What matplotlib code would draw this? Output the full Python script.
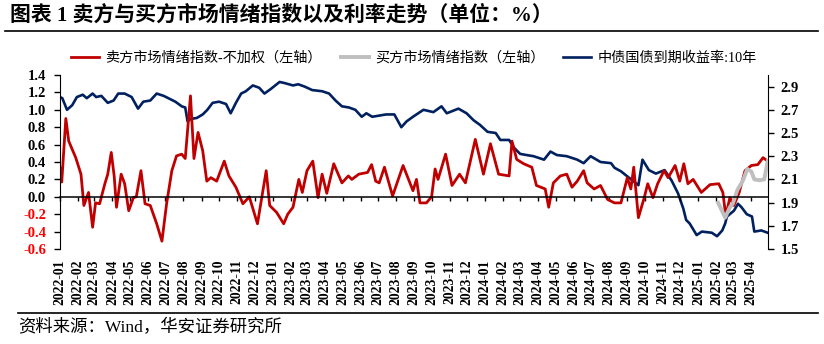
import numpy as np
import pandas as pd
import matplotlib
matplotlib.use("Agg")
import matplotlib.pyplot as plt
import matplotlib.dates as mdates
from matplotlib.lines import Line2D

# =========================
# data
# =========================
sell_dates = ['2022-01-01', '2022-01-04', '2022-01-11', '2022-01-16', '2022-01-28', '2022-02-06',
              '2022-02-11', '2022-02-19', '2022-02-26', '2022-03-03', '2022-03-10', '2022-03-19',
              '2022-03-24', '2022-03-30', '2022-04-04', '2022-04-08', '2022-04-16', '2022-04-22',
              '2022-04-29', '2022-05-07', '2022-05-12', '2022-05-20', '2022-05-27', '2022-06-05',
              '2022-06-16', '2022-06-25', '2022-07-03', '2022-07-12', '2022-07-20', '2022-07-29',
              '2022-08-04', '2022-08-13', '2022-08-19', '2022-08-26', '2022-09-03', '2022-09-10',
              '2022-09-17', '2022-09-27', '2022-10-10', '2022-10-18', '2022-10-30', '2022-11-11',
              '2022-11-22', '2022-12-06', '2022-12-21', '2022-12-27', '2023-01-08', '2023-01-20',
              '2023-01-27', '2023-02-05', '2023-02-15', '2023-02-21', '2023-03-01', '2023-03-11',
              '2023-03-20', '2023-03-27', '2023-04-04', '2023-04-16', '2023-04-30', '2023-05-11',
              '2023-05-17', '2023-05-29', '2023-06-13', '2023-06-20', '2023-06-27', '2023-07-03',
              '2023-07-12', '2023-07-26', '2023-08-13', '2023-08-30', '2023-09-05', '2023-09-11',
              '2023-09-22', '2023-10-01', '2023-10-07', '2023-10-12', '2023-10-25', '2023-11-05',
              '2023-11-18', '2023-11-28', '2023-12-15', '2023-12-29', '2024-01-10', '2024-01-24',
              '2024-02-11', '2024-02-16', '2024-02-24', '2024-03-07', '2024-03-21', '2024-03-29',
              '2024-04-13', '2024-04-19', '2024-04-27', '2024-05-09', '2024-05-20', '2024-05-29',
              '2024-06-07', '2024-06-18', '2024-06-24', '2024-07-06', '2024-07-17', '2024-07-29',
              '2024-08-10', '2024-08-21', '2024-09-01', '2024-09-07', '2024-09-12', '2024-09-20',
              '2024-09-30', '2024-10-06', '2024-10-15', '2024-10-23', '2024-11-03', '2024-11-10',
              '2024-11-22', '2024-11-30', '2024-12-07', '2024-12-14', '2024-12-23', '2025-01-06',
              '2025-01-21', '2025-02-05', '2025-02-12', '2025-02-17', '2025-02-24', '2025-03-03',
              '2025-03-12', '2025-03-22', '2025-04-02', '2025-04-13', '2025-04-22', '2025-04-30']
sell_vals = [0.33, 0.17, 0.90, 0.64, 0.45, 0.26,
             -0.10, 0.05, -0.35, -0.07, -0.08, 0.15,
             0.26, 0.51, 0.24, -0.12, 0.26, 0.15,
             -0.16, -0.01, 0.00, 0.30, -0.08, -0.10,
             -0.31, -0.51, -0.08, 0.30, 0.47, 0.49,
             0.44, 1.16, 0.44, 0.74, 0.53, 0.18,
             0.22, 0.18, 0.41, 0.24, 0.11, -0.08,
             0.00, -0.31, 0.30, -0.10, -0.18, -0.31,
             -0.20, -0.12, 0.20, 0.05, 0.30, 0.41,
             -0.01, 0.26, 0.04, 0.38, 0.16, 0.24,
             0.20, 0.26, 0.28, 0.37, 0.18, 0.16,
             0.34, 0.01, 0.36, 0.07, 0.20, -0.07,
             -0.07, 0.00, 0.32, 0.20, 0.49, 0.13,
             0.26, 0.16, 0.66, 0.26, 0.61, 0.26,
             0.24, 0.64, 0.43, 0.38, 0.34, 0.13,
             0.09, -0.12, 0.16, 0.24, 0.26, 0.11,
             0.18, 0.30, 0.16, 0.09, 0.13, -0.03,
             -0.07, -0.07, 0.22, 0.09, 0.34, -0.24,
             -0.01, 0.15, -0.01, 0.15, 0.30, 0.22,
             0.36, 0.18, 0.38, 0.15, 0.20, 0.05,
             0.14, 0.15, 0.05, -0.22, -0.01, -0.10,
             0.05, 0.30, 0.36, 0.37, 0.45, 0.41]

buy_dates = ['2025-02-04', '2025-02-16', '2025-02-24', '2025-03-01', '2025-03-09', '2025-03-18',
             '2025-03-26', '2025-04-02', '2025-04-07', '2025-04-16', '2025-04-24', '2025-04-30']
buy_vals = [-0.07, -0.24, -0.12, -0.08, 0.08, 0.18,
            0.32, 0.29, 0.20, 0.19, 0.20, 0.41]

yield_dates = ['2022-01-01', '2022-01-05', '2022-01-13', '2022-01-22', '2022-01-30', '2022-02-09',
               '2022-02-16', '2022-02-26', '2022-03-04', '2022-03-13', '2022-03-24', '2022-04-03',
               '2022-04-11', '2022-04-22', '2022-05-04', '2022-05-15', '2022-05-24', '2022-06-05',
               '2022-06-16', '2022-06-28', '2022-07-06', '2022-07-18', '2022-07-29', '2022-08-04',
               '2022-08-08', '2022-08-13', '2022-08-24', '2022-09-03', '2022-09-11', '2022-09-20',
               '2022-10-01', '2022-10-13', '2022-10-21', '2022-10-30', '2022-11-08', '2022-11-16',
               '2022-11-28', '2022-12-09', '2022-12-18', '2022-12-29', '2023-01-13', '2023-01-22',
               '2023-02-05', '2023-02-14', '2023-02-25', '2023-03-10', '2023-03-27', '2023-04-08',
               '2023-04-19', '2023-04-30', '2023-05-12', '2023-05-23', '2023-06-03', '2023-06-11',
               '2023-06-21', '2023-07-03', '2023-07-15', '2023-07-29', '2023-08-10', '2023-08-19',
               '2023-08-30', '2023-09-17', '2023-10-04', '2023-10-18', '2023-10-27', '2023-11-16',
               '2023-11-30', '2023-12-12', '2023-12-23', '2024-01-05', '2024-01-19', '2024-01-27',
               '2024-02-11', '2024-02-20', '2024-03-01', '2024-03-12', '2024-03-24', '2024-04-11',
               '2024-04-22', '2024-05-03', '2024-05-20', '2024-06-07', '2024-06-18', '2024-06-30',
               '2024-07-17', '2024-08-04', '2024-08-10', '2024-08-21', '2024-09-05', '2024-09-20',
               '2024-09-27', '2024-10-08', '2024-10-20', '2024-11-04', '2024-11-16', '2024-11-27',
               '2024-12-06', '2024-12-11', '2024-12-17', '2024-12-29', '2025-01-07', '2025-01-24',
               '2025-02-02', '2025-02-11', '2025-02-16', '2025-02-19', '2025-03-03', '2025-03-10',
               '2025-03-16', '2025-03-25', '2025-04-03', '2025-04-07', '2025-04-19', '2025-04-30']
yield_vals = [2.81, 2.80, 2.70, 2.74, 2.81, 2.83,
              2.80, 2.84, 2.81, 2.82, 2.76, 2.78,
              2.84, 2.84, 2.81, 2.71, 2.77, 2.78,
              2.84, 2.82, 2.80, 2.77, 2.73, 2.72,
              2.60, 2.62, 2.63, 2.66, 2.70, 2.76,
              2.77, 2.75, 2.67, 2.76, 2.84, 2.86,
              2.91, 2.89, 2.84, 2.88, 2.94, 2.93,
              2.91, 2.92, 2.90, 2.87, 2.86, 2.84,
              2.78, 2.73, 2.72, 2.70, 2.64, 2.67,
              2.64, 2.65, 2.66, 2.66, 2.55, 2.60,
              2.64, 2.70, 2.68, 2.73, 2.67, 2.71,
              2.67, 2.61, 2.57, 2.51, 2.50, 2.44,
              2.44, 2.37, 2.32, 2.31, 2.30, 2.27,
              2.34, 2.31, 2.30, 2.27, 2.24, 2.30,
              2.25, 2.24, 2.20, 2.17, 2.11, 2.05,
              2.27, 2.18, 2.15, 2.18, 2.09, 1.98,
              1.85, 1.75, 1.72, 1.62, 1.65, 1.64,
              1.61, 1.66, 1.72, 1.78, 1.83, 1.89,
              1.86, 1.80, 1.78, 1.65, 1.66, 1.64]

left_ticks = [-0.6, -0.4, -0.2, 0.0, 0.2, 0.4, 0.6, 0.8, 1.0, 1.2, 1.4]
right_ticks = [1.5, 1.7, 1.9, 2.1, 2.3, 2.5, 2.7, 2.9]

name_sell = "卖方市场情绪指数-不加权（左轴）"
name_buy = "买方市场情绪指数（左轴）"
name_yield = "中债国债到期收益率:10年"

RED = "#C00000"
GRAY = "#BFBFBF"
NAVY = "#002060"

plt.rcParams['font.family'] = ['Liberation Serif', 'Noto Sans CJK SC']

# =========================
# figure
# =========================
W, H = 824, 344
fig = plt.figure(figsize=(W / 100, H / 100), dpi=100)
ax = fig.add_axes([60 / W, 1 - 249 / H, 708 / W, 174 / H])
ax2 = ax.twinx()
ax.set_zorder(ax2.get_zorder() + 1)
ax.patch.set_visible(False)

l1, = ax.plot(pd.to_datetime(sell_dates), sell_vals, color=RED, lw=2.0, label=name_sell)
l2, = ax.plot(pd.to_datetime(buy_dates), buy_vals, color=GRAY, lw=2.8, label=name_buy)
l3, = ax2.plot(pd.to_datetime(yield_dates), yield_vals, color=NAVY, lw=1.9, label=name_yield)

# left axis
ax.set_ylim(-0.6, 1.4)
ax.set_yticks(left_ticks, labels=[f"{t:.1f}" for t in left_ticks])
for t, lbl in zip(left_ticks, ax.get_yticklabels()):
    lbl.set_fontweight('bold')
    if t < 0:
        lbl.set_color('#FF0000')
ax.tick_params(axis='y', direction='out', length=4, width=1, pad=6, labelsize=10.5)

# right axis
ax2.set_ylim(1.5, 3.0)
ax2.set_yticks(right_ticks, labels=[f"{t:.1f}" for t in right_ticks])
for lbl in ax2.get_yticklabels():
    lbl.set_fontweight('bold')
ax2.tick_params(axis='y', direction='out', length=4, width=1, pad=5, labelsize=10.5)

# x axis sits on zero line
ax.set_xlim(pd.Timestamp('2022-01-01'), pd.Timestamp('2025-04-30 12:00'))
ax.xaxis.set_major_locator(mdates.MonthLocator())
ax.xaxis.set_major_formatter(mdates.DateFormatter('%Y-%m'))
ax.spines['bottom'].set_position(('data', 0))
ax.tick_params(axis='x', direction='out', length=3, width=1, pad=42,
               labelrotation=90, labelsize=9.8)
for lbl in ax.get_xticklabels():
    lbl.set_fontweight('bold')

for s in ['top', 'right']:
    ax.spines[s].set_visible(False)
for s in ['top', 'bottom', 'left']:
    ax2.spines[s].set_visible(False)
ax.spines['bottom'].set_linewidth(1.1)

# legend
fig.legend(handles=[l1, l2, l3], loc='center', bbox_to_anchor=(414 / W, 1 - 58 / H),
           ncol=3, frameon=False, fontsize=10.2, handlelength=2.0,
           handletextpad=0.45, columnspacing=1.3)

# title / source
fig.text(10 / W, 1 - 16 / H, "图表 1 卖方与买方市场情绪指数以及利率走势（单位：%）",
         fontsize=15, fontweight='bold', va='center', ha='left')
fig.add_artist(Line2D([5 / W, 818 / W], [1 - 31 / H] * 2, color='black', lw=1.2))
fig.add_artist(Line2D([18 / W, 818 / W], [1 - 313 / H] * 2, color='black', lw=1.2))
fig.text(18 / W, 1 - 328 / H, "资料来源：Wind，华安证券研究所",
         fontsize=12.5, va='center', ha='left')

fig.savefig("out.png", dpi=100)
